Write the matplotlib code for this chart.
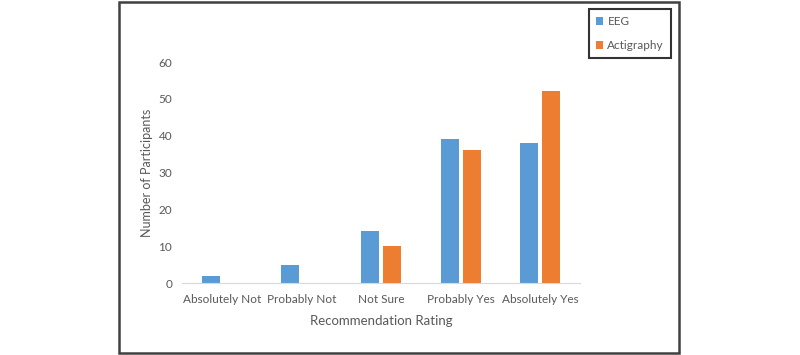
import numpy as np
import matplotlib.pyplot as plt
from matplotlib.patches import Rectangle

categories = ["Absolutely Not", "Probably Not", "Not Sure", "Probably Yes", "Absolutely Yes"]
eeg = [2, 5, 14, 39, 38]
actigraphy = [0, 0, 10, 36, 52]

blue = "#5B9BD5"
orange = "#ED7D31"
text_gray = "#595959"

plt.rcParams['font.family'] = ['Lato', 'DejaVu Sans']

fig = plt.figure(figsize=(8, 3.55), dpi=100)
ax = fig.add_axes([182 / 800, 1 - 283 / 355, 398 / 800, 221 / 355])

x = np.arange(len(categories))
w = 0.226
gap = 0.025
ax.bar(x - w / 2 - gap, eeg, w, color=blue, label="EEG")
ax.bar(x + w / 2 + gap, actigraphy, w, color=orange, label="Actigraphy")

ax.set_xlim(-0.5, len(categories) - 0.5)
ax.set_ylim(0, 60)
ax.set_yticks(range(0, 61, 10))
ax.set_xticks(x)
ax.set_xticklabels(categories)
ax.tick_params(length=0, colors=text_gray, labelsize=8.5)
ax.tick_params(axis='y', pad=7)
ax.tick_params(axis='x', pad=8)
for s in ["top", "right", "left"]:
    ax.spines[s].set_visible(False)
ax.spines["bottom"].set_color("#D9D9D9")

ax.set_xlabel("Recommendation Rating", color=text_gray, fontsize=9.5, labelpad=7)
ax.set_ylabel("Number of Participants", color=text_gray, fontsize=9, labelpad=4)

leg = ax.legend(loc="upper right", bbox_to_anchor=(671 / 800, 1 - 9 / 355),
                bbox_transform=fig.transFigure, frameon=True, fancybox=False,
                fontsize=8.5, handlelength=0.6, handleheight=0.6,
                labelspacing=1.1, borderpad=0.6, handletextpad=0.4,
                borderaxespad=0)
leg.get_frame().set_edgecolor("black")
leg.get_frame().set_linewidth(1.5)
for t in leg.get_texts():
    t.set_color(text_gray)

# outer chart border
fig.patches.append(Rectangle((119 / 800, 2 / 355), 560 / 800, 351 / 355,
                             transform=fig.transFigure, fill=False,
                             edgecolor="#404040", linewidth=1.8))

fig.savefig("out.png", dpi=100)
